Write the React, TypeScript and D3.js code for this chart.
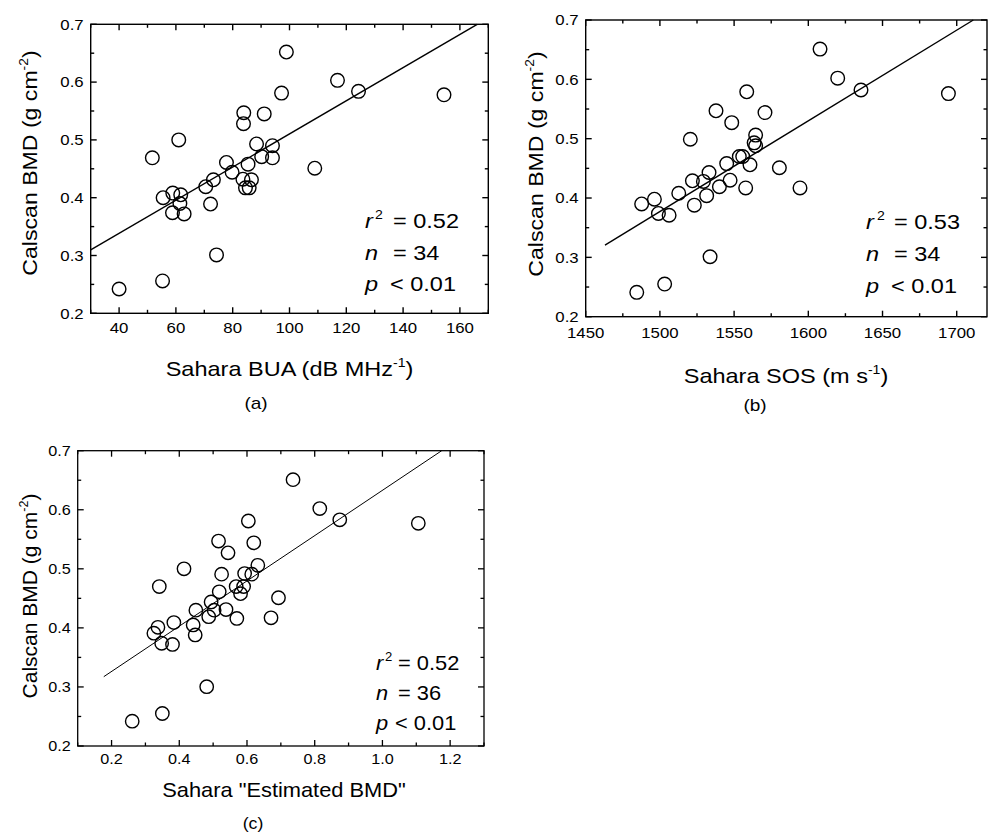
import React from "react";
import * as d3 from "d3";

// ---------- DATA ----------
// Panel (a): Sahara BUA vs Calscan BMD
const buaX = [40.0, 55.3, 51.7, 61.0, 55.5, 58.9, 61.7, 58.8, 61.4, 62.9, 70.5, 73.2, 72.2, 74.3, 77.8, 79.8, 83.9, 83.8, 83.6, 86.6, 85.4, 85.8, 84.5, 88.4, 90.2, 91.1, 94.0, 94.0, 98.9, 97.2, 108.9, 116.9, 124.3, 154.4];
const buaBMD = [0.242, 0.256, 0.469, 0.500, 0.400, 0.408, 0.405, 0.374, 0.390, 0.372, 0.419, 0.431, 0.389, 0.301, 0.461, 0.444, 0.547, 0.528, 0.432, 0.431, 0.458, 0.417, 0.417, 0.493, 0.471, 0.545, 0.490, 0.469, 0.652, 0.581, 0.451, 0.603, 0.584, 0.578];

// Panel (b): Sahara SOS vs Calscan BMD
const sosX = [1484.4, 1503.2, 1487.7, 1496.3, 1499.0, 1506.2, 1512.7, 1520.5, 1521.9, 1523.2, 1529.3, 1533.1, 1531.5, 1540.1, 1545.0, 1547.3, 1537.8, 1548.4, 1553.5, 1555.8, 1557.8, 1560.7, 1558.5, 1564.5, 1564.5, 1563.5, 1570.8, 1580.5, 1594.4, 1533.8, 1607.9, 1619.8, 1635.5, 1694.4];
const sosBMD = [0.241, 0.255, 0.390, 0.398, 0.374, 0.371, 0.408, 0.499, 0.429, 0.388, 0.428, 0.443, 0.404, 0.419, 0.458, 0.430, 0.547, 0.527, 0.470, 0.470, 0.417, 0.456, 0.579, 0.506, 0.488, 0.493, 0.544, 0.451, 0.417, 0.301, 0.651, 0.602, 0.582, 0.576];

// Panel (c): Sahara "Estimated BMD" vs Calscan BMD
const estX = [0.261, 0.350, 0.341, 0.414, 0.337, 0.325, 0.348, 0.380, 0.384, 0.449, 0.441, 0.447, 0.487, 0.494, 0.503, 0.518, 0.525, 0.538, 0.570, 0.481, 0.516, 0.544, 0.568, 0.581, 0.590, 0.593, 0.614, 0.632, 0.604, 0.620, 0.693, 0.671, 0.736, 0.815, 0.874, 1.106];
const estBMD = [0.242, 0.255, 0.470, 0.500, 0.401, 0.391, 0.374, 0.372, 0.409, 0.430, 0.405, 0.388, 0.419, 0.444, 0.430, 0.461, 0.491, 0.431, 0.416, 0.3005, 0.547, 0.527, 0.470, 0.458, 0.470, 0.492, 0.491, 0.506, 0.581, 0.544, 0.451, 0.417, 0.651, 0.602, 0.583, 0.577];

// Tick labels
const bmdTicks = [0.2, 0.3, 0.4, 0.5, 0.6, 0.7];
const buaTicks = [40, 60, 80, 100, 120, 140, 160];
const sosTicks = [1450, 1500, 1550, 1600, 1650, 1700];
const estTicks = [0.2, 0.4, 0.6, 0.8, 1.0, 1.2];

// Regression fits: [slope, intercept, x start]
const fitBUA = [0.002869, 0.2235, 30];
const fitSOS = [0.001528, -1.9147, 1463];
const fitEST = [0.3834, 0.2495, 0.177];

// Statistics text
const statsBUA = ["0.52", "34", "0.01"];
const statsSOS = ["0.53", "34", "0.01"];
const statsEST = ["0.52", "36", "0.01"];

const FONT = "'Liberation Sans', Arial, Helvetica, sans-serif";

function SText(props: any) {
  const { x, y, sx = 1, rot = 0, anchor = "start", size, italic, children } = props;
  const tr = `translate(${x},${y})` + (rot ? ` rotate(${rot})` : "") + ` scale(${sx},1)`;
  return (
    <text transform={tr} textAnchor={anchor} fontSize={size} fontFamily={FONT} fontStyle={italic ? "italic" : "normal"} fill="#000">
      {children}
    </text>
  );
}

function Panel(props: any) {
  const {
    box, xDomain, xMajor, xMinorStep, xFmt, xs, ys, fit,
    xTitle, yTitle, caption, stats, st,
  } = props;
  const [L, T, R, B] = box;
  const x = d3.scaleLinear().domain(xDomain).range([L, R]);
  const y = d3.scaleLinear().domain([0.2, 0.7]).range([B, T]);
  const yMinor = d3.range(0.25, 0.7, 0.1);
  const xMinor = d3.range(xDomain[0], xDomain[1] + 1e-9, xMinorStep).filter(
    (v) => !xMajor.some((m: number) => Math.abs(m - v) < 1e-6)
  );
  const majLen = 6, minLen = 3.5;
  const [slope, icpt, xs0] = fit;
  const xEnd = Math.min(xDomain[1], (0.7 - icpt) / slope);
  const sw = st.axisW;
  const tickEls: any[] = [];
  const addX = (v: number, len: number, k: string) => {
    const px = x(v);
    tickEls.push(<line key={"b" + k} x1={px} x2={px} y1={B} y2={B - len} />);
    tickEls.push(<line key={"t" + k} x1={px} x2={px} y1={T} y2={T + len} />);
  };
  const addY = (v: number, len: number, k: string) => {
    const py = y(v);
    tickEls.push(<line key={"l" + k} x1={L} x2={L + len} y1={py} y2={py} />);
    tickEls.push(<line key={"r" + k} x1={R} x2={R - len} y1={py} y2={py} />);
  };
  xMajor.forEach((v: number, i: number) => addX(v, majLen, "M" + i));
  xMinor.forEach((v: number, i: number) => addX(v, minLen, "m" + i));
  bmdTicks.forEach((v, i) => addY(v, majLen, "M" + i));
  yMinor.forEach((v, i) => addY(v, minLen, "m" + i));

  const line = d3.line<number>().x((v) => x(v)).y((v) => y(slope * v + icpt));

  return (
    <g>
      <rect x={L} y={T} width={R - L} height={B - T} fill="none" stroke="#000" strokeWidth={sw} />
      <g stroke="#000" strokeWidth={sw}>{tickEls}</g>
      <path d={line([xs0, xEnd]) || ""} fill="none" stroke="#000" strokeWidth={st.fitW} />
      {xs.map((v: number, i: number) => (
        <circle key={i} cx={x(v)} cy={y(ys[i])} r={st.r} fill="none" stroke="#000" strokeWidth={st.circW} />
      ))}
      {bmdTicks.map((v, i) => (
        <SText key={"yl" + i} x={L - 7} y={y(v) + 5.3} sx={st.tickSx} anchor="end" size={st.tickSize}>
          {d3.format(".1f")(v)}
        </SText>
      ))}
      {xMajor.map((v: number, i: number) => (
        <SText key={"xl" + i} x={x(v)} y={B + st.xLabOff} sx={st.tickSx} anchor="middle" size={st.tickSize}>
          {xFmt(v)}
        </SText>
      ))}
      {/* axis titles */}
      <SText x={xTitle.x} y={xTitle.y} sx={st.titleSx} anchor="middle" size={st.titleSize}>
        {xTitle.text}
        {xTitle.sup ? <tspan dy={-9} fontSize={st.titleSize * 0.6}>{xTitle.sup}</tspan> : null}
        {xTitle.sup ? <tspan dy={9}>)</tspan> : null}
      </SText>
      <SText x={yTitle.x} y={yTitle.y} sx={st.yTitleSx} rot={-90} anchor="middle" size={st.titleSize}>
        {"Calscan BMD (g cm"}
        <tspan dy={-9} fontSize={st.titleSize * 0.6}>-2</tspan>
        <tspan dy={9}>)</tspan>
      </SText>
      <SText x={caption.x} y={caption.y} sx={st.titleSx} anchor="middle" size={st.capSize}>
        {caption.text}
      </SText>
      {/* statistics */}
      <SText x={stats.x} y={stats.y[0]} sx={st.titleSx} size={st.statSize} italic>r</SText>
      <SText x={stats.x + stats.supOff} y={stats.y[0] - 9} sx={st.titleSx} size={st.statSize * 0.6}>2</SText>
      <SText x={stats.x + stats.opOff} y={stats.y[0]} sx={st.titleSx} size={st.statSize}>{"= " + stats.v[0]}</SText>
      <SText x={stats.x} y={stats.y[1]} sx={st.titleSx} size={st.statSize} italic>n</SText>
      <SText x={stats.x + stats.opOff} y={stats.y[1]} sx={st.titleSx} size={st.statSize}>{"= " + stats.v[1]}</SText>
      <SText x={stats.x} y={stats.y[2]} sx={st.titleSx} size={st.statSize} italic>p</SText>
      <SText x={stats.x + stats.opOff - 3} y={stats.y[2]} sx={st.titleSx} size={st.statSize}>{"< " + stats.v[2]}</SText>
    </g>
  );
}

const styleAB = { axisW: 1.4, fitW: 1.4, circW: 1.4, r: 6.8, tickSize: 15, tickSx: 1.12, titleSize: 21, titleSx: 1.12, yTitleSx: 1.1, capSize: 17, statSize: 21, xLabOff: 20 };
const styleC = { axisW: 1.3, fitW: 1.0, circW: 1.4, r: 6.7, tickSize: 15, tickSx: 1.08, titleSize: 21, titleSx: 1.04, yTitleSx: 1.0, capSize: 17, statSize: 21, xLabOff: 18 };

export default function App() {
  return (
    <svg width={988} height={836} style={{ position: "absolute", left: 0, top: 0, background: "#fff" }}>
      <rect x={0} y={0} width={988} height={836} fill="#fff" />
      <Panel
        box={[90.7, 24.3, 488.3, 313.3]}
        xDomain={[30, 170]}
        xMajor={buaTicks}
        xMinorStep={10}
        xFmt={(v: number) => String(v)}
        xs={buaX}
        ys={buaBMD}
        fit={fitBUA}
        xTitle={{ x: 289.5, y: 376, text: "Sahara BUA (dB MHz", sup: "-1" }}
        yTitle={{ x: 37, y: 163 }}
        caption={{ x: 256, y: 409, text: "(a)" }}
        stats={{ x: 365, y: [228, 260, 291], v: statsBUA, supOff: 10, opOff: 28 }}
        st={styleAB}
      />
      <Panel
        box={[585.7, 20, 987, 316.7]}
        xDomain={[1450, 1720.4]}
        xMajor={sosTicks}
        xMinorStep={25}
        xFmt={(v: number) => String(v)}
        xs={sosX}
        ys={sosBMD}
        fit={fitSOS}
        xTitle={{ x: 786, y: 383, text: "Sahara SOS (m s", sup: "-1" }}
        yTitle={{ x: 543, y: 164 }}
        caption={{ x: 755, y: 411, text: "(b)" }}
        stats={{ x: 866, y: [229, 261, 293], v: statsSOS, supOff: 11, opOff: 28 }}
        st={{ ...styleAB, xLabOff: 21 }}
      />
      <Panel
        box={[77.7, 450.7, 484, 746]}
        xDomain={[0.1, 1.3]}
        xMajor={estTicks}
        xMinorStep={0.1}
        xFmt={(v: number) => d3.format(".1f")(v)}
        xs={estX}
        ys={estBMD}
        fit={fitEST}
        xTitle={{ x: 284, y: 797, text: 'Sahara "Estimated  BMD"', sup: "" }}
        yTitle={{ x: 37, y: 596 }}
        caption={{ x: 253, y: 829, text: "(c)" }}
        stats={{ x: 376, y: [670, 700, 730], v: statsEST, supOff: 9, opOff: 22 }}
        st={styleC}
      />
    </svg>
  );
}
